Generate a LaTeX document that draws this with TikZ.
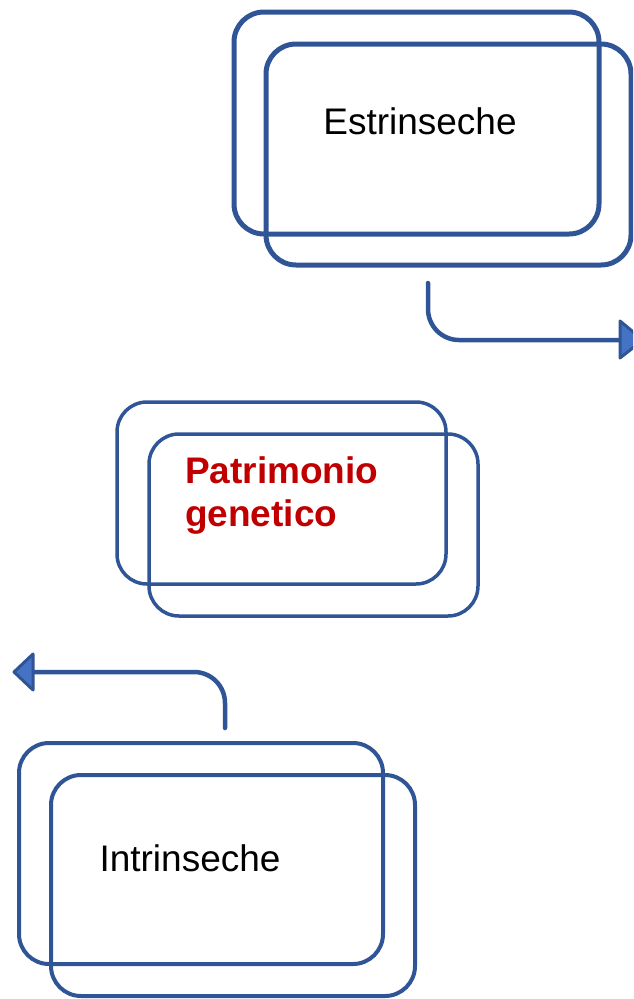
\documentclass[tikz,border=0pt]{standalone}
\usepackage{fontspec}
\setmainfont{Liberation Sans}
\definecolor{edge}{RGB}{47,85,151}
\definecolor{headfill}{RGB}{68,114,196}
\definecolor{redtext}{RGB}{192,0,0}
\begin{document}
\begin{tikzpicture}[x=1pt,y=-1pt,
  boxline/.style={draw=edge,rounded corners=30pt,line width=#1},
  boxline/.default=4pt,
  conn/.style={draw=edge,line width=4.5pt,line cap=round,rounded corners=31pt},
  headtri/.style={draw=edge,fill=headfill,line width=3pt,line join=round},
  lbl/.style={font=\fontsize{37}{44}\selectfont,inner sep=0pt}]
\useasboundingbox (0,0) rectangle (633,999);
\clip (0,0) rectangle (633,999);
% Estrinseche
\draw[boxline=5pt] (234,12) rectangle (599,234);
\draw[boxline=5pt] (266,44) rectangle (631,265);
\node[lbl] (estr) at (420,121) {Estrinseche};
% Patrimonio genetico
\draw[boxline=3.5pt] (117,402) rectangle (446,584);
\draw[boxline=3.5pt] (149,434) rectangle (478,616);
\node[lbl,anchor=north west,align=left,text=redtext,font=\fontsize{37}{43}\selectfont\bfseries] (patr) at (185,456) {Patrimonio\\genetico};
% Intrinseche
\draw[boxline=4pt] (19,743) rectangle (383,964);
\draw[boxline=4pt] (51,775) rectangle (415,996);
\node[lbl] (intr) at (190,858) {Intrinseche};
% arrow 1
\coordinate (a1s) at (428,283);
\coordinate (a1c) at (428,340);
\coordinate (a1e) at (620,340);
\draw[conn] (a1s) -- (a1c) -- (a1e);
\draw[headtri] (620,321) -- (643,340) -- (620,358) -- cycle;
% arrow 2
\coordinate (a2s) at (225,728);
\coordinate (a2c) at (225,672);
\coordinate (a2e) at (34,672);
\draw[conn] (a2s) -- (a2c) -- (a2e);
\draw[headtri] (33,654) -- (14,672) -- (33,690) -- cycle;
\end{tikzpicture}
\end{document}
